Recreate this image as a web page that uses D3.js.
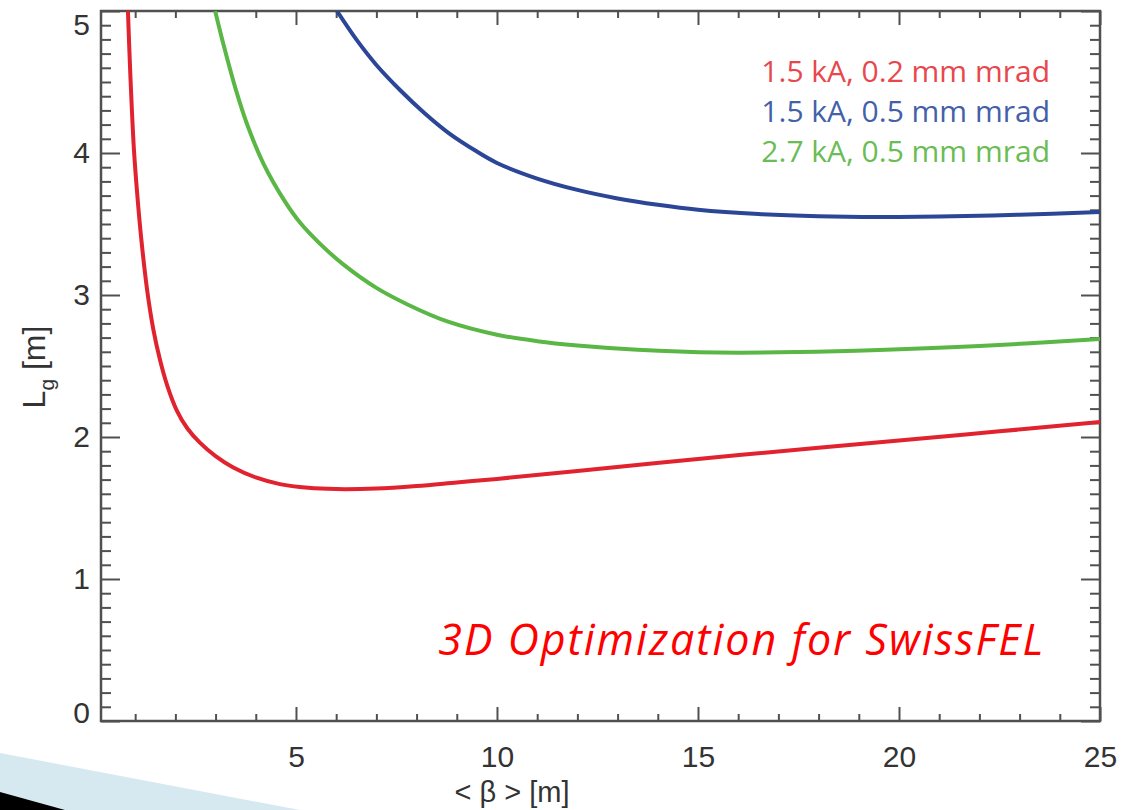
<!DOCTYPE html>
<html>
<head>
<meta charset="utf-8">
<script src="https://cdn.jsdelivr.net/npm/d3@7"></script>
<style>
  html, body { margin: 0; padding: 0; background: #ffffff; }
  svg { display: block; }
</style>
</head>
<body>
<svg id="chart" width="1130" height="810"></svg>
<script>
// ---- data ----
const seriesNames = ["1.5 kA, 0.2 mm mrad", "1.5 kA, 0.5 mm mrad", "2.7 kA, 0.5 mm mrad"];
const seriesColors = ["#e0232e", "#2b4696", "#5ab745"];
const legendColors = ["#e8474d", "#4460a8", "#6abc54"];

const redBeta = [0.82, 0.88, 0.97, 1.06, 1.15, 1.3, 1.45, 1.62, 1.8, 2.03, 2.3, 2.61, 3.0, 3.44, 4.0, 4.6, 5.3, 6.0, 7.0, 8.0, 9.0, 10, 12, 15, 18, 20, 22.5, 25];
const redLg   = [5.0, 4.55, 4.02, 3.68, 3.40, 3.03, 2.76, 2.54, 2.36, 2.19, 2.06, 1.96, 1.865, 1.785, 1.715, 1.668, 1.642, 1.633, 1.637, 1.655, 1.68, 1.705, 1.76, 1.845, 1.925, 1.975, 2.04, 2.105];

const blueBeta = [6.02, 6.5, 7.0, 7.6, 8.2, 8.8, 9.5, 10, 11, 12, 13, 14, 15, 16.5, 18, 19.5, 21, 23, 25];
const blueLg   = [5.0, 4.80, 4.62, 4.44, 4.28, 4.14, 4.01, 3.93, 3.82, 3.74, 3.68, 3.635, 3.60, 3.57, 3.555, 3.55, 3.553, 3.565, 3.585];

const greenBeta = [2.99, 3.2, 3.5, 3.8, 4.2, 4.7, 5.1, 5.6, 6.2, 7.0, 7.8, 8.8, 10, 11, 12, 13.5, 15.5, 17.5, 19.5, 22, 25];
const greenLg   = [5.0, 4.76, 4.45, 4.19, 3.92, 3.67, 3.51, 3.36, 3.21, 3.05, 2.93, 2.81, 2.72, 2.675, 2.645, 2.615, 2.595, 2.598, 2.612, 2.64, 2.69];

const xMajorTicks = [5, 10, 15, 20, 25];
const xMinorTicks = d3.range(1, 25, 1).filter(v => v % 5 !== 0);
const yMajorTicks = [0, 1, 2, 3, 4, 5];
const yMinorTicks = d3.range(1, 50).map(v => v / 10).filter((v, i) => (i + 1) % 10 !== 0);

const xTitle = "< β > [m]";
const yTitleMain = "L";
const yTitleSub = "g";
const yTitleRest = " [m]";
const annotation = "3D Optimization for SwissFEL";

// ---- layout ----
const svg = d3.select("#chart");
const L = 101, R = 1100, T = 11, B = 721;
const x = d3.scaleLinear().domain([0.15, 25]).range([L, R]);
const y = d3.scaleLinear().domain([0, 5]).range([B, T]);

// slide decoration at bottom left
svg.append("polygon").attr("points", "0,753 300,810 0,810").attr("fill", "#d6e9f1");
svg.append("polygon").attr("points", "0,792 65,810 0,810").attr("fill", "#000000");

const axisColor = "#505050";
const tickFont = "'Liberation Sans', Arial, Helvetica, sans-serif";

function styleAxis(g) {
  g.select(".domain").remove();
  g.selectAll(".tick line").attr("stroke", axisColor).attr("stroke-width", 2);
  g.selectAll(".tick text").attr("fill", "#333333").style("font-family", tickFont).style("font-size", "30px");
}

// bottom axis
svg.append("g").attr("transform", `translate(0,${B})`)
  .call(d3.axisBottom(x).tickValues(xMajorTicks).tickSize(-14).tickPadding(25).tickFormat(d3.format("d")))
  .call(styleAxis);
svg.append("g").attr("transform", `translate(0,${B})`)
  .call(d3.axisBottom(x).tickValues(xMinorTicks).tickSize(-7).tickFormat(""))
  .call(styleAxis);
// top axis
svg.append("g").attr("transform", `translate(0,${T})`)
  .call(d3.axisTop(x).tickValues(xMajorTicks).tickSize(-14).tickFormat(""))
  .call(styleAxis);
svg.append("g").attr("transform", `translate(0,${T})`)
  .call(d3.axisTop(x).tickValues(xMinorTicks).tickSize(-7).tickFormat(""))
  .call(styleAxis);
// left axis
const leftG = svg.append("g").attr("transform", `translate(${L},0)`)
  .call(d3.axisLeft(y).tickValues(yMajorTicks).tickSize(-19).tickPadding(11).tickFormat(d3.format("d")))
  .call(styleAxis);
leftG.selectAll(".tick text").attr("y", d => {
  const py = y(d);
  const c = Math.max(25, Math.min(713, py));
  return c - py;
});
svg.append("g").attr("transform", `translate(${L},0)`)
  .call(d3.axisLeft(y).tickValues(yMinorTicks).tickSize(-10).tickFormat(""))
  .call(styleAxis);
// right axis
svg.append("g").attr("transform", `translate(${R},0)`)
  .call(d3.axisRight(y).tickValues(yMajorTicks).tickSize(-19).tickFormat(""))
  .call(styleAxis);
svg.append("g").attr("transform", `translate(${R},0)`)
  .call(d3.axisRight(y).tickValues(yMinorTicks).tickSize(-10).tickFormat(""))
  .call(styleAxis);

// frame
svg.append("rect").attr("x", L).attr("y", T).attr("width", R - L).attr("height", B - T)
  .attr("fill", "none").attr("stroke", axisColor).attr("stroke-width", 2.5);

// clip
svg.append("clipPath").attr("id", "plotClip")
  .append("rect").attr("x", L).attr("y", T).attr("width", R - L).attr("height", B - T);

const line = d3.line().x(d => x(d[0])).y(d => y(d[1])).curve(d3.curveCatmullRom.alpha(0.5));
const seriesData = [
  d3.zip(redBeta, redLg),
  d3.zip(blueBeta, blueLg),
  d3.zip(greenBeta, greenLg)
];
// draw order: green, blue, red
[2, 1, 0].forEach(i => {
  svg.append("path")
    .attr("clip-path", "url(#plotClip)")
    .attr("d", line(seriesData[i]))
    .attr("fill", "none")
    .attr("stroke", seriesColors[i])
    .attr("stroke-width", 4)
    .attr("stroke-linejoin", "round");
});

// legend
const legendFont = "'Open Sans', 'Noto Sans', sans-serif";
const legendBaselines = [82, 122, 162];
seriesNames.forEach((name, i) => {
  svg.append("text")
    .attr("x", 1050).attr("y", legendBaselines[i])
    .attr("text-anchor", "end")
    .style("font-family", legendFont).style("font-size", "30px")
    .attr("fill", legendColors[i])
    .text(name);
});

// annotation
svg.append("text")
  .attr("x", 1045).attr("y", 655)
  .attr("text-anchor", "end")
  .style("font-family", legendFont).style("font-size", "43px").style("font-style", "italic")
  .style("letter-spacing", "2px")
  .attr("fill", "#ff0000")
  .text(annotation);

// axis titles
svg.append("text")
  .attr("x", 512).attr("y", 802)
  .attr("text-anchor", "middle")
  .style("font-family", tickFont).style("font-size", "29px")
  .attr("fill", "#333333")
  .text(xTitle);

const yt = svg.append("text")
  .attr("transform", "translate(45,367) rotate(-90)")
  .attr("text-anchor", "middle")
  .style("font-family", tickFont).style("font-size", "32px")
  .attr("fill", "#333333");
yt.append("tspan").text(yTitleMain);
yt.append("tspan").attr("dy", 9).style("font-size", "21px").text(yTitleSub);
yt.append("tspan").attr("dy", -9).text(yTitleRest);
</script>
</body>
</html>
